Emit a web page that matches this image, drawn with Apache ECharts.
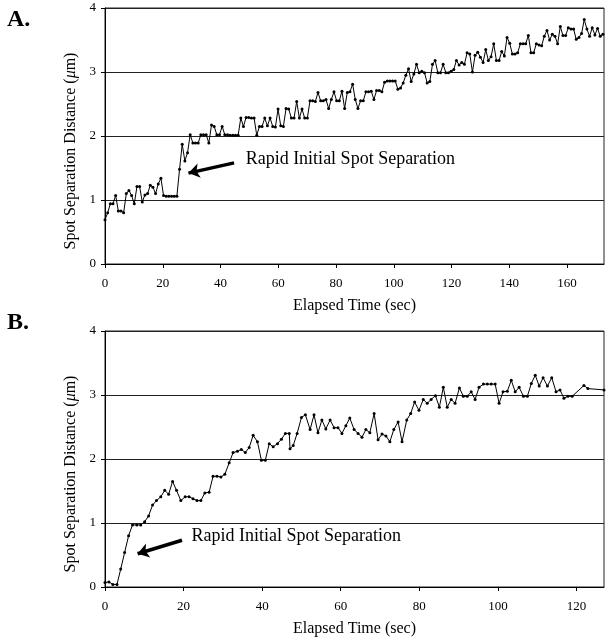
<!DOCTYPE html>
<html>
<head>
<meta charset="utf-8">
<script src="https://cdn.jsdelivr.net/npm/echarts@6/dist/echarts.min.js"></script>
<style>
html,body{margin:0;padding:0;background:#fff;}
#chart{width:609px;height:639px;}
</style>
</head>
<body>
<div id="chart"></div>
<script>
// ---------- Panel A data (uniformly sampled frames) ----------
const panelAFrameInterval = 0.922; // seconds between frames
const panelAValues = [
  0.69, 0.80, 0.94, 0.94, 1.07, 0.83, 0.83, 0.80, 1.10, 1.15, 1.07, 0.94, 1.21, 1.21, 0.97, 1.08,
  1.10, 1.23, 1.20, 1.10, 1.25, 1.34, 1.07, 1.06, 1.06, 1.06, 1.06, 1.06, 1.48, 1.87, 1.61, 1.74,
  2.02, 1.89, 1.89, 1.89, 2.02, 2.02, 2.02, 1.89, 2.17, 2.15, 2.02, 2.02, 2.15, 2.02, 2.02,
  2.01, 2.01, 2.01, 2.01,
  2.28, 2.15, 2.29, 2.29, 2.28, 2.28, 2.01, 2.15, 2.15, 2.28, 2.16, 2.28, 2.15, 2.14, 2.42, 2.16,
  2.15, 2.43, 2.42, 2.28, 2.28, 2.54, 2.28, 2.42, 2.28, 2.28, 2.55, 2.55, 2.54, 2.68, 2.55, 2.55,
  2.57, 2.43, 2.57, 2.69, 2.55, 2.55, 2.70, 2.43, 2.68, 2.69, 2.81, 2.57,
  2.43, 2.55, 2.55, 2.69, 2.69, 2.70, 2.57, 2.71, 2.71, 2.69, 2.84, 2.86, 2.86, 2.86, 2.86, 2.73,
  2.75, 2.83, 2.95, 3.05, 2.85, 2.97, 3.12, 2.99, 3.01, 2.99, 2.83, 2.85, 3.12, 3.18, 2.99, 2.99,
  3.12, 2.99, 2.99, 3.01, 3.04, 3.18, 3.11, 3.15, 3.12, 3.30, 3.28, 3.00, 3.26, 3.31,
  3.23, 3.15, 3.35, 3.18, 3.24, 3.44, 3.18, 3.18, 3.32, 3.25, 3.54, 3.45, 3.28, 3.28, 3.30, 3.44,
  3.44, 3.44, 3.57, 3.30, 3.30, 3.44, 3.42, 3.41, 3.56, 3.65, 3.50, 3.59, 3.56, 3.44, 3.71, 3.57,
  3.57, 3.69, 3.67, 3.67, 3.51, 3.54, 3.60, 3.82, 3.67, 3.56, 3.69, 3.58, 3.68, 3.56, 3.59
];

// ---------- Panel B data ----------
const panelBTimes = [
  0, 1.0, 2.0, 3.05, 4.0, 5.0, 6.0, 7.0, 8.1, 9.1, 10.1, 11.1, 12.1, 13.1, 14.2, 15.2,
  16.2, 17.2, 18.2, 19.3, 20.4, 21.4, 22.4, 23.4, 24.4, 25.4, 26.5, 27.5, 28.5, 29.5, 30.5, 31.6,
  32.6, 33.7, 34.7, 35.7, 36.7, 37.7, 38.8, 39.8, 40.8, 41.8, 42.8, 43.9, 44.9, 45.9, 46.9, 47.1,
  47.9, 48.9, 50.0, 51.0, 52.2, 53.2, 54.2, 55.2, 56.2, 57.3, 58.3, 59.3, 60.3, 61.3, 62.3, 63.4,
  64.4, 65.4, 66.4, 67.4, 68.5, 69.5, 70.5, 71.5, 72.5, 73.5, 74.6, 75.6, 76.8, 77.8, 78.8,
  79.9, 81.0, 82.0, 83.0, 84.1, 85.1, 86.1, 87.1, 88.1, 89.1, 90.2, 91.2, 92.2, 93.2, 94.2, 95.2,
  96.3, 97.3, 98.3, 99.3, 100.3, 101.3, 102.4, 103.4, 104.4, 105.4, 106.5, 107.5, 108.5, 109.5,
  110.5, 111.5, 112.6, 113.7, 114.8, 115.8, 116.8, 117.8, 118.9, 121.9, 122.9, 127.0
];
const panelBValues = [
  0.07, 0.08, 0.04, 0.04, 0.28, 0.54, 0.80, 0.97, 0.97, 0.97, 1.02, 1.11, 1.28, 1.35, 1.41, 1.51,
  1.45, 1.65, 1.51, 1.35, 1.41, 1.41, 1.38, 1.35, 1.35, 1.47, 1.48, 1.73, 1.73, 1.72, 1.76, 1.94,
  2.10, 2.12, 2.15, 2.10, 2.18, 2.37, 2.27, 1.98, 1.98, 2.24, 2.19, 2.24, 2.31, 2.40, 2.40, 2.16,
  2.21, 2.40, 2.65, 2.69, 2.46, 2.69, 2.41, 2.61, 2.47, 2.61, 2.49, 2.49, 2.40, 2.52, 2.64, 2.46,
  2.40, 2.34, 2.46, 2.41, 2.71, 2.30, 2.39, 2.36, 2.27, 2.46, 2.58, 2.27, 2.61, 2.71, 2.89,
  2.76, 2.93, 2.87, 2.93, 2.99, 2.81, 3.12, 2.81, 2.93, 2.87, 3.11, 2.98, 2.98, 3.05, 2.93, 3.12,
  3.17, 3.17, 3.17, 3.17, 2.87, 3.05, 3.06, 3.23, 3.05, 3.12, 2.98, 2.98, 3.18, 3.31,
  3.14, 3.27, 3.14, 3.27, 3.05, 3.08, 2.95, 2.98, 2.98, 3.15, 3.10, 3.08
];

// ---------- Axes / labels ----------
const xTickInterval = 20;
const yTicks = [0, 1, 2, 3, 4];
const panelAXMax = 172.8;
const panelBXMax = 127.0;
const xAxisTitle = 'Elapsed Time (sec)';
const yAxisTitle = 'Spot Separation Distance ({mu|μ}m)';
const panelLabels = ['A.', 'B.'];
const annotationText = 'Rapid Initial Spot Separation';
// annotation anchors in data units
const annotationA = { text: [48.7, 1.63], tail: [44.7, 1.58], head: [28.9, 1.42] };
const annotationB = { text: [22.0, 0.80], tail: [19.6, 0.73], head: [8.3, 0.52] };

const panelAData = panelAValues.map((v, i) => [+(i * panelAFrameInterval).toFixed(3), v]);
const panelBData = panelBTimes.map((t, i) => [t, panelBValues[i]]);

const FONT = '"Liberation Serif", "Times New Roman", serif';
const chart = echarts.init(document.getElementById('chart'), null, { renderer: 'canvas' });

function xAxis(gridIndex, max) {
  return {
    type: 'value', gridIndex, min: 0, max, interval: xTickInterval,
    name: xAxisTitle, nameLocation: 'middle', nameGap: 34,
    nameTextStyle: { fontFamily: FONT, fontSize: 16, color: '#000' },
    axisLine: { show: true, onZero: false, lineStyle: { color: '#000', width: 1 } },
    axisTick: { show: true, length: 4, lineStyle: { color: '#000' } },
    axisLabel: { fontFamily: FONT, fontSize: 13, color: '#000', margin: 13, showMaxLabel: false },
    splitLine: { show: false }
  };
}
function yAxis(gridIndex) {
  return {
    type: 'value', gridIndex, min: yTicks[0], max: yTicks[yTicks.length - 1], interval: 1,
    name: yAxisTitle, nameLocation: 'middle', nameGap: 24, nameRotate: 90,
    nameTextStyle: {
      fontFamily: FONT, fontSize: 16, color: '#000', padding: [0, 30, 0, 0],
      rich: { mu: { fontFamily: FONT, fontSize: 16, fontStyle: 'italic', color: '#000' } }
    },
    axisLine: { show: true, lineStyle: { color: '#000', width: 1 } },
    axisTick: { show: true, length: 4, lineStyle: { color: '#000' } },
    axisLabel: { fontFamily: FONT, fontSize: 13, color: '#000', margin: 9 },
    splitLine: { show: true, lineStyle: { color: '#222', width: 1 } }
  };
}
function annotation(a) {
  return {
    markLine: {
      silent: true, animation: false,
      symbol: ['none', 'arrow'], symbolSize: 11,
      lineStyle: { color: '#000', width: 3.5, type: 'solid' },
      label: { show: false },
      emphasis: { disabled: true },
      data: [[{ coord: a.tail }, { coord: a.head }]]
    },
    markPoint: {
      silent: true, animation: false,
      symbol: 'circle', symbolSize: 0,
      label: {
        show: true, position: 'right', distance: 0,
        fontFamily: FONT, fontSize: 18, color: '#000',
        formatter: () => annotationText
      },
      data: [{ coord: a.text }]
    }
  };
}
function lineSeries(idx, data, a) {
  return Object.assign({
    type: 'line', xAxisIndex: idx, yAxisIndex: idx, data,
    symbol: 'circle', symbolSize: 3, showSymbol: true, showAllSymbol: true,
    itemStyle: { color: '#000' },
    lineStyle: { color: '#000', width: 1 },
    clip: true, animation: false, silent: true
  }, annotation(a));
}

chart.setOption({
  backgroundColor: '#fff',
  animation: false,
  grid: [
    { left: 105, top: 8, width: 499, height: 256, show: true, borderColor: '#222', borderWidth: 1, backgroundColor: 'transparent' },
    { left: 105, top: 331, width: 499, height: 256, show: true, borderColor: '#222', borderWidth: 1, backgroundColor: 'transparent' }
  ],
  xAxis: [xAxis(0, panelAXMax), xAxis(1, panelBXMax)],
  yAxis: [yAxis(0), yAxis(1)],
  series: [lineSeries(0, panelAData, annotationA), lineSeries(1, panelBData, annotationB)],
  graphic: [
    { type: 'text', left: 7, top: 8, style: { text: panelLabels[0], font: 'bold 24px ' + FONT, fill: '#000' } },
    { type: 'text', left: 7, top: 311, style: { text: panelLabels[1], font: 'bold 24px ' + FONT, fill: '#000' } }
  ]
});
</script>
</body>
</html>
